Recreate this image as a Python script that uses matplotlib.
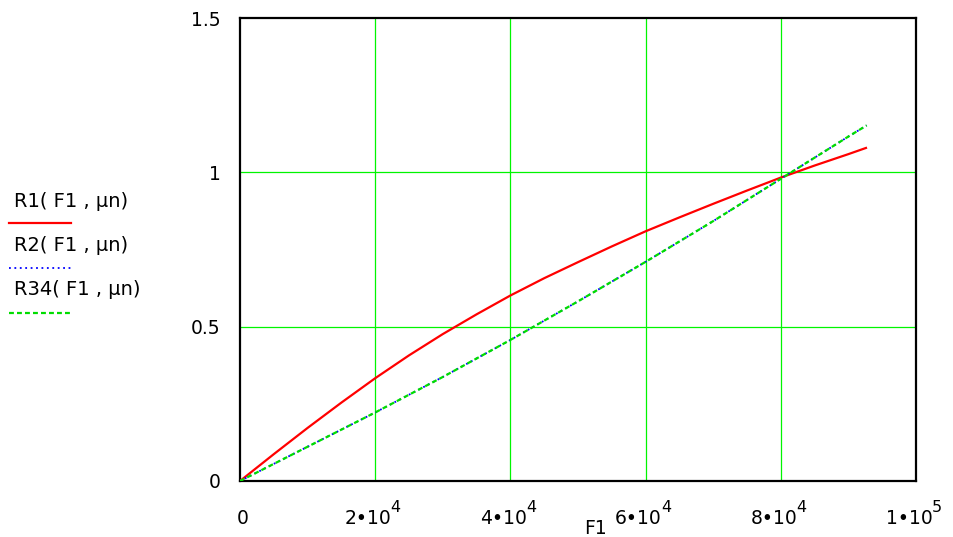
import matplotlib
matplotlib.use("Agg")
import matplotlib.pyplot as plt
from matplotlib.lines import Line2D
from matplotlib import transforms

plt.rcParams['font.family'] = ['DejaVu Sans']

# Data
F1 = [0, 5e3, 1e4, 1.5e4, 2e4, 2.5e4, 3e4, 3.5e4, 4e4, 4.5e4, 5e4, 5.5e4,
      6e4, 6.5e4, 7e4, 7.5e4, 8e4, 8.5e4, 9e4, 9.26e4]
R1 = [0, 0.087, 0.172, 0.254, 0.333, 0.407, 0.476, 0.540, 0.601, 0.657, 0.709,
      0.760, 0.809, 0.854, 0.898, 0.941, 0.983, 1.022, 1.059, 1.079]
F1b = [0, 1e4, 2e4, 3e4, 4e4, 5e4, 6e4, 7e4, 8e4, 9e4, 9.27e4]
R2 = [0, 0.111, 0.222, 0.337, 0.457, 0.582, 0.710, 0.842, 0.979, 1.116, 1.152]
R34 = [0, 0.111, 0.222, 0.337, 0.457, 0.582, 0.710, 0.842, 0.979, 1.116, 1.152]

xticks = [0, 2e4, 4e4, 6e4, 8e4, 1e5]
xtick_base = ["0", "2\u202210", "4\u202210", "6\u202210", "8\u202210", "1\u202210"]
xtick_exp = ["", "4", "4", "4", "4", "5"]
yticks = [0, 0.5, 1, 1.5]
yticklabels = ["0", "0.5", "1", "1.5"]
legend_labels = ["R1( F1 , \u03bcn)", "R2( F1 , \u03bcn)", "R34( F1 , \u03bcn)"]

W, H = 954, 537
fig = plt.figure(figsize=(9.54, 5.37), dpi=100)
ax = fig.add_axes([240/W, 56/H, 676/W, 463/H])

grid_c = '#00f500'
for xv in xticks[1:-1]:
    ax.axvline(xv, color=grid_c, lw=0.9, zorder=1)
for yv in yticks[1:-1]:
    ax.axhline(yv, color=grid_c, lw=0.9, zorder=1)

red_style = dict(color='#ff0000', lw=1.6, ls='-')
blue_style = dict(color='#0000ff', lw=1.3, ls=(0, (1, 2)))
green_style = dict(color='#00dd00', lw=1.6, ls=(0, (2.2, 1.4)))

ax.plot(F1, R1, zorder=3, **red_style)
ax.plot(F1b, R2, zorder=3, **blue_style)
ax.plot(F1b, R34, zorder=4, **green_style)

ax.set_xlim(0, 1e5)
ax.set_ylim(0, 1.5)
for s in ax.spines.values():
    s.set_linewidth(1.6)
    s.set_color('black')
ax.tick_params(length=0, labelsize=13.5)
ax.set_xticks(xticks)
ax.set_xticklabels([])
ax.set_yticks(yticks)
ax.set_yticklabels(yticklabels)
ax.tick_params(axis='y', pad=14)

# x tick labels with full-size raised exponents
renderer = fig.canvas.get_renderer()
xt = ax.get_xaxis_transform()
base_y_px = 518  # centre of base text (from top)
exp_y_px = 507
for xv, b, e in zip(xticks, xtick_base, xtick_exp):
    if not e:
        ax.text(xv, 0, b, transform=transforms.offset_copy(
            xt, fig, x=3, y=-(base_y_px - 481), units='dots'),
            ha='center', va='center', fontsize=13.5, clip_on=False)
        continue
    tb = ax.text(xv, 0, b, transform=xt, ha='right', va='center',
                 fontsize=13.5, clip_on=False)
    te = ax.text(xv, 0, e, transform=xt, ha='left', va='center',
                 fontsize=11.5, clip_on=False)
    wb = tb.get_window_extent(renderer).width
    we = te.get_window_extent(renderer).width
    off = (wb - we) / 2 - 2
    tb.set_transform(transforms.offset_copy(xt, fig, x=off, y=-(base_y_px - 481), units='dots'))
    te.set_transform(transforms.offset_copy(xt, fig, x=off - 1, y=-(exp_y_px - 481), units='dots'))

fig.text(596/W, 1 - 529/H, "F1", fontsize=13.5, ha='center', va='center')

# Left-side legend
ys_text = [201.5, 245.5, 289.5]
ys_line = [223, 268, 312.5]
styles = [red_style, blue_style, green_style]
for lab, yt, yl, st in zip(legend_labels, ys_text, ys_line, styles):
    fig.text(14/W, 1 - yt/H, lab, fontsize=14, ha='left', va='center')
    fig.add_artist(Line2D([9/W, 71/W], [1 - yl/H, 1 - yl/H],
                          transform=fig.transFigure, **st))

fig.savefig("out.png", dpi=100)
